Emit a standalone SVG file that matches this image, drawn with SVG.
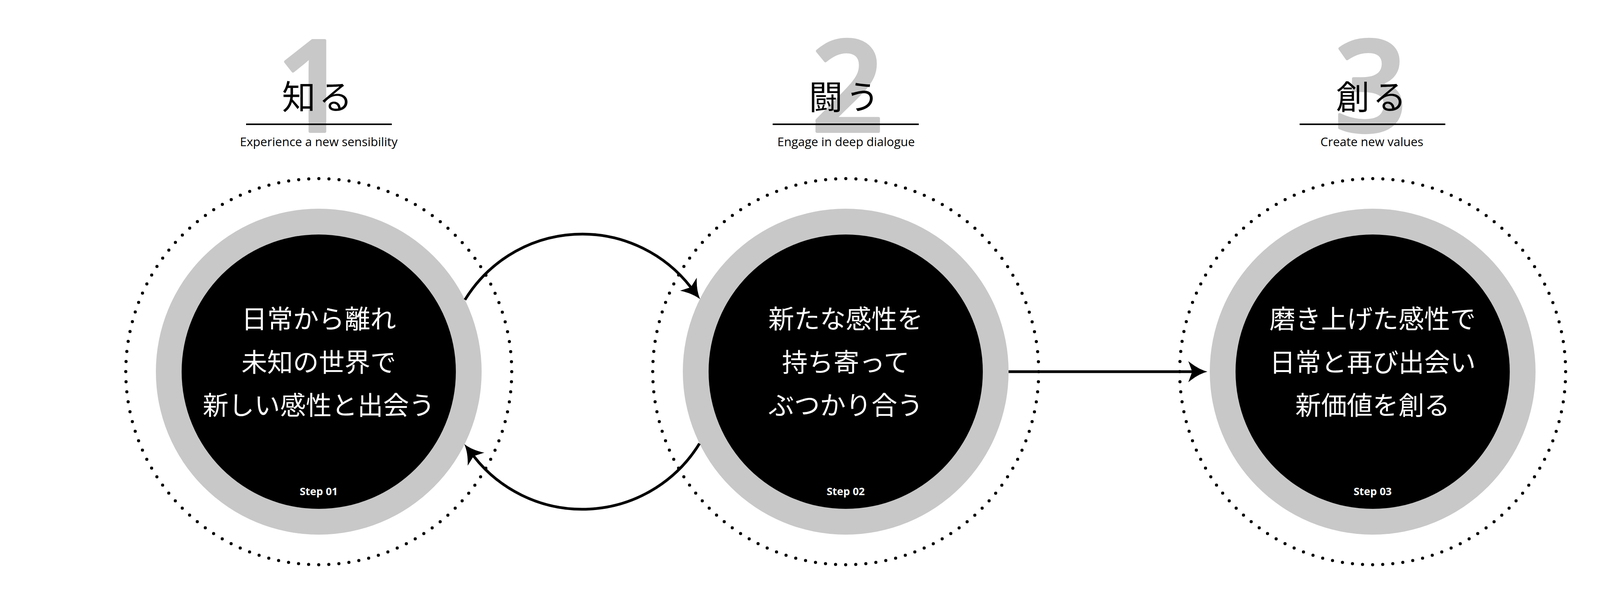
<svg xmlns="http://www.w3.org/2000/svg" width="4330" height="1525" viewBox="0 0 4330 1525">
<defs>
<style>
.dots{fill:none;stroke:#000;stroke-width:8;stroke-linecap:round;stroke-dasharray:0 25.866}
.ring{fill:#c8c8c8}
.core{fill:#000}
.body{font-family:"Noto Sans CJK JP","Noto Sans CJK SC",sans-serif;font-size:66px;fill:#fff;text-anchor:middle}
.step{font-family:"Open Sans","Liberation Sans",sans-serif;font-weight:700;font-size:27px;fill:#fff;text-anchor:middle}
.num{font-family:"Open Sans","Liberation Sans",sans-serif;font-weight:600;font-size:325px;fill:#c8c8c8;stroke:#c8c8c8;stroke-width:8;stroke-linejoin:round;text-anchor:middle}
.title{font-family:"Noto Sans CJK JP","Noto Sans CJK SC",sans-serif;font-size:86px;letter-spacing:8px;fill:#000;text-anchor:middle}
.rule{stroke:#000;stroke-width:4}
.sub{font-family:"Open Sans","Liberation Sans",sans-serif;font-size:31px;fill:#000;text-anchor:middle}
.conn{fill:none;stroke:#000;stroke-width:7}
</style>
<marker id="head" markerUnits="userSpaceOnUse" orient="auto" refX="0" refY="0" markerWidth="1" markerHeight="1" overflow="visible">
<path d="M39,0 Q15,-6 -10,-27 L0,0 L-10,27 Q15,6 39,0 Z" fill="#000"/>
</marker>
</defs>
<rect width="4330" height="1525" fill="#fff"/>

<g id="step1">
<text class="num" x="800" y="336">1</text>
<text class="title" x="816" y="280">知る</text>
<line class="rule" x1="630" y1="318" x2="1003" y2="318"/>
<text class="sub" x="816" y="374">Experience a new sensibility</text>
<circle class="dots" cx="816" cy="951" r="494"/>
<circle class="ring" cx="816" cy="951" r="417"/>
<circle class="core" cx="816" cy="951" r="351"/>
<text class="body" x="816" y="840">日常から離れ</text>
<text class="body" x="816" y="951">未知の世界で</text>
<text class="body" x="816" y="1061">新しい感性と出会う</text>
<text class="step" x="816" y="1267">Step 01</text>
</g>

<g id="step2">
<text class="num" x="2170" y="336">2</text>
<text class="title" x="2165" y="280">闘う</text>
<line class="rule" x1="1978" y1="318" x2="2352" y2="318"/>
<text class="sub" x="2166" y="374">Engage in deep dialogue</text>
<circle class="dots" cx="2165" cy="951" r="494"/>
<circle class="ring" cx="2165" cy="951" r="417"/>
<circle class="core" cx="2165" cy="951" r="351"/>
<text class="body" x="2165" y="840">新たな感性を</text>
<text class="body" x="2165" y="951">持ち寄って</text>
<text class="body" x="2165" y="1061">ぶつかり合う</text>
<text class="step" x="2165" y="1267">Step 02</text>
</g>

<g id="step3">
<text class="num" x="3509" y="336">3</text>
<text class="title" x="3514" y="280">創る</text>
<line class="rule" x1="3327" y1="318" x2="3700" y2="318"/>
<text class="sub" x="3512" y="374">Create new values</text>
<circle class="dots" cx="3514" cy="951" r="494"/>
<circle class="ring" cx="3514" cy="951" r="417"/>
<circle class="core" cx="3514" cy="951" r="351"/>
<text class="body" x="3514" y="840">磨き上げた感性で</text>
<text class="body" x="3514" y="951">日常と再び出会い</text>
<text class="body" x="3514" y="1061">新価値を創る</text>
<text class="step" x="3514" y="1267">Step 03</text>
</g>

<g id="connectors">
<path class="conn" d="M1190.3,767.2 A352,352 0 0 1 1768.5,735.0" marker-end="url(#head)"/>
<path class="conn" d="M1790.7,1134.8 A352,352 0 0 1 1212.5,1167.0" marker-end="url(#head)"/>
<path class="conn" d="M2582,951 L3052,951" marker-end="url(#head)"/>
</g>
</svg>
